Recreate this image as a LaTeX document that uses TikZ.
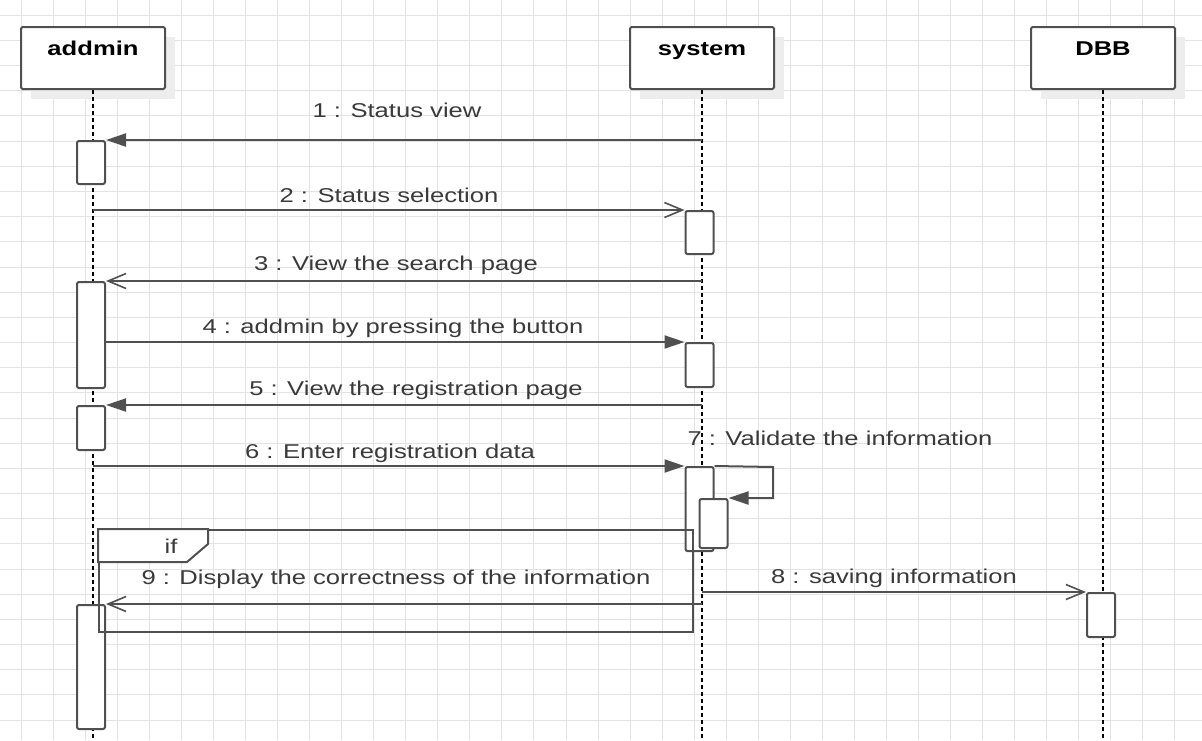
\documentclass[tikz,border=0pt]{standalone}
\usepackage{fontspec}
\setmainfont{Liberation Sans}[FakeStretch=1.28]
\usetikzlibrary{arrows.meta}

\definecolor{linec}{HTML}{505050}
\definecolor{txtc}{HTML}{3A3A3A}
\definecolor{gridc}{HTML}{E3E3E3}
\definecolor{shadc}{HTML}{EDEDED}
\newcommand\lblfont{\fontsize{20}{24}\selectfont}

\tikzset{
  gridline/.style={draw=gridc, line width=1pt},
  hdr/.style={draw=linec, line width=2pt, fill=white, minimum width=144pt,
    minimum height=62pt, rounded corners=1.5pt, inner sep=0pt,
    text height=14.5pt, text depth=20pt, text=black, font=\lblfont\bfseries},
  act/.style={draw=linec, line width=2pt, fill=white, minimum width=28pt,
    rounded corners=2pt, inner sep=0pt},
  life/.style={draw=black, line width=2pt, dash pattern=on 4pt off 3pt},
  msg/.style={draw=linec, line width=2pt},
  solidhead/.style={msg, -{Triangle[length=20pt,width=13pt]}},
  openhead/.style={msg, -{Straight Barb[length=18pt,width=15pt,line width=1.6pt]}},
  lbl/.style={text=txtc, anchor=base, inner sep=0pt, font=\lblfont},
  altframe/.style={draw=linec, line width=2pt},
}

\begin{document}
\begin{tikzpicture}[x=1pt,y=-1pt]
\useasboundingbox (0,0) rectangle (1202,740);
\fill[white] (0,0) rectangle (1202,740);

% background grid
\foreach \i in {0,...,36}
  \draw[gridline] ({21.5+32.03*\i},0) -- ({21.5+32.03*\i},740);
\foreach \j in {0,...,28}
  \draw[gridline] (0,{15.3+25.17*\j}) -- (1202,{15.3+25.17*\j});

% participants
\coordinate (bottom) at (0,740);
\foreach \p/\x in {addmin/93, sys/702, dbb/1103}
  \fill[shadc] (\x-62,37) rectangle (\x+82,99);
\node[hdr] (addmin) at (93,58) {addmin};
\node[hdr] (sys)    at (702,58) {system};
\node[hdr] (dbb)    at (1103,58) {DBB};

% lifelines
\draw[life] (addmin.south) -- (addmin.south |- bottom);
\draw[life] (sys.south) -- (sys.south |- bottom);
\draw[life] (dbb.south) -- (dbb.south |- bottom);

% activation bars
\node[act, minimum height=43pt]  (a1) at (91,162.5) {};
\node[act, minimum height=106pt] (a2) at (91,335) {};
\node[act, minimum height=44pt]  (a3) at (91,428) {};
\node[act, minimum height=124pt] (a4) at (91,667) {};
\node[act, minimum height=43pt]  (s1) at (699.5,232.5) {};
\node[act, minimum height=44pt]  (s2) at (699.5,365) {};
\node[act, minimum height=84pt]  (s3) at (699.5,509) {};
\node[act, minimum height=49pt]  (s4) at (713.5,523.5) {};
\node[act, minimum height=44pt]  (d1) at (1101,615) {};

% messages
\draw[solidhead] (sys |- a1.north) -- (a1.north east);
\node[lbl] (l1) at (397,117) {1 : Status view};

\draw[openhead] (addmin |- s1.north) -- (s1.north west);
\node[lbl] (l2) at (389,202) {2 : Status selection};

\draw[openhead] (sys |- a2.north) -- (a2.north east);
\node[lbl] (l3) at (396,270) {3 : View the search page};

\draw[solidhead] (a2.east |- s2.north) -- (s2.north west);
\node[lbl] (l4) at (393,333) {4 : addmin by pressing the button};

\draw[solidhead] (sys |- a3.north) -- (a3.north east);
\node[lbl] (l5) at (416,395) {5 : View the registration page};

\draw[solidhead] (addmin |- s3.north) -- (s3.north west);
\node[lbl] (l6) at (390,458) {6 : Enter registration data};

\coordinate (turn) at (773,467);
\draw[solidhead] (s3.north east) -- (turn) |- (s4.north east);
\node[lbl] (l7) at (840,445) {7 : Validate the information};

\draw[openhead] (sys |- d1.north) -- (d1.north west);
\node[lbl] (l8) at (894,583) {8 : saving information};

\draw[openhead] (sys |- a4.north) -- (a4.north east);
\node[lbl] (l9) at (396,584) {9 : Display the correctness of the information};

% combined fragment
\node[altframe, minimum width=594pt, minimum height=102pt, inner sep=0pt] (alt) at (396,581) {};
\draw[altframe, fill=white] (alt.north west) -- ++(110,0) -- ++(0,15) -- ++(-21,18) -- ++(-89,0) -- cycle;
\node[lbl] (cond) at (171,553) {if};
\end{tikzpicture}
\end{document}
